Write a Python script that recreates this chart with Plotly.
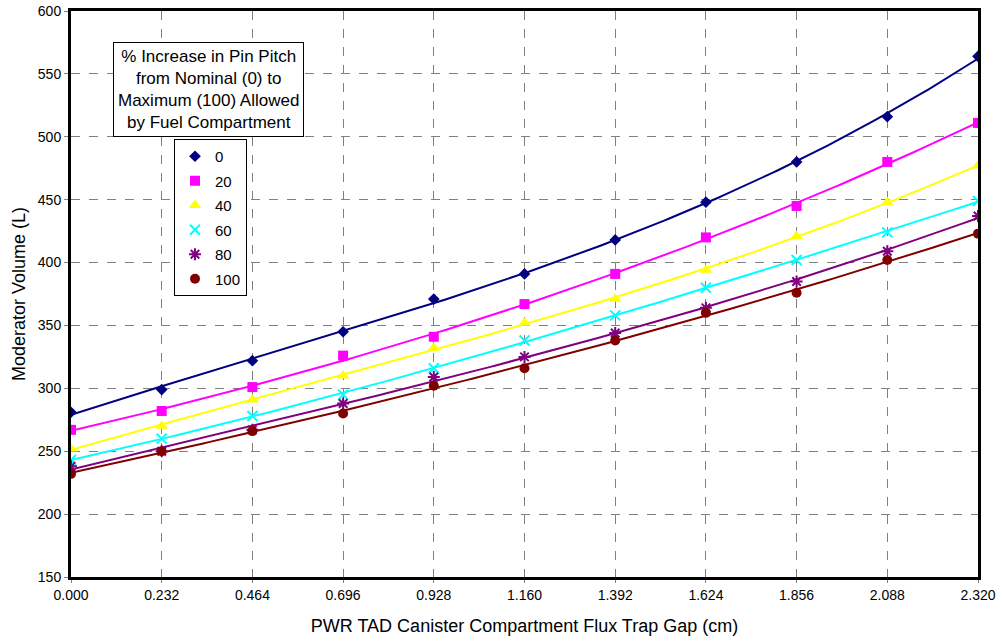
import numpy as np
import plotly.graph_objects as go

gap = [0.000, 0.232, 0.464, 0.696, 0.928, 1.160, 1.392, 1.624, 1.856, 2.088, 2.320]

s0 = [281, 299, 322, 345, 371, 391, 418, 448, 480, 516, 564]
s20 = [267, 282, 301, 326, 341, 367, 391, 420, 445, 480, 511]
s40 = [252, 270, 291, 310, 332, 352, 371, 394, 421, 448, 477]
s60 = [243, 260, 278, 295, 316, 338, 358, 380, 402, 424, 449]
s80 = [238, 250, 267, 288, 309, 325, 344, 364, 385, 409, 437]
s100 = [232, 250, 266, 280, 302, 316, 338, 360, 376, 402, 423]

names = ["0", "20", "40", "60", "80", "100"]
series = [s0, s20, s40, s60, s80, s100]
colors = ["#000080", "#FF00FF", "#FFFF00", "#00FFFF", "#800080", "#800000"]
symbols = ["diamond", "square", "triangle-up", "x-thin", "asterisk", "circle"]
msizes = [9, 10, 11, 10, 10, 10]

fig = go.Figure()
xs = np.linspace(gap[0], gap[-1], 200)
for name, ys, c, sym, ms in zip(names, series, colors, symbols, msizes):
    coef = np.polyfit(gap, ys, 3)
    fig.add_trace(go.Scatter(x=xs, y=np.polyval(coef, xs), mode="lines",
                             line=dict(color=c, width=2), showlegend=False,
                             hoverinfo="skip"))
for i, (name, ys, c, sym, ms) in enumerate(zip(names, series, colors, symbols, msizes)):
    thin = sym in ("x-thin", "asterisk")
    fig.add_trace(go.Scatter(x=gap, y=ys, mode="markers", name=name,
                             legendgroup=name,
                             marker=dict(symbol=sym, color=c, size=ms,
                                         line=dict(color=c, width=2 if thin else 0))))

fig.update_layout(
    width=1002, height=641,
    margin=dict(l=71, r=24, t=11, b=64, autoexpand=False),
    paper_bgcolor="white", plot_bgcolor="white",
    font=dict(family="Arial, Liberation Sans", size=14, color="black"),
    showlegend=True,
    legend=dict(x=(174 - 71) / 907, y=(577 - 139) / 566, xanchor="left", yanchor="top",
                bgcolor="white", bordercolor="black", borderwidth=1,
                font=dict(size=15, color="black"), tracegroupgap=2,
                itemwidth=30),
    annotations=[dict(
        text="% Increase in Pin Pitch<br>from Nominal (0) to<br>Maximum (100) Allowed<br>by Fuel Compartment",
        xref="paper", yref="paper", x=(208.5 - 71) / 907, y=(577 - 89.5) / 566,
        xanchor="center", yanchor="middle", showarrow=False, align="center",
        font=dict(size=17, color="black"), bgcolor="white",
        bordercolor="black", borderwidth=1, borderpad=4)],
)
fig.update_xaxes(
    range=[0, 2.32], tickvals=gap, tickformat=".3f", automargin=False,
    showgrid=True, gridcolor="#808080", griddash="dash", gridwidth=1,
    showline=True, linecolor="black", linewidth=3, mirror=True,
    ticks="outside", ticklen=3, tickcolor="#808080", zeroline=False,
    title=dict(text="PWR TAD Canister Compartment Flux Trap Gap (cm)",
               font=dict(size=18), standoff=18),
    tickfont=dict(size=14),
)
fig.update_yaxes(
    range=[150, 600], dtick=50, tick0=150, automargin=False,
    showgrid=True, gridcolor="#808080", griddash="dash", gridwidth=1,
    showline=True, linecolor="black", linewidth=3, mirror=True,
    ticks="outside", ticklen=4, tickcolor="#808080", zeroline=False,
    title=dict(text="Moderator Volume (L)", font=dict(size=18), standoff=8),
    tickfont=dict(size=14),
)

fig.write_html("out.html")
